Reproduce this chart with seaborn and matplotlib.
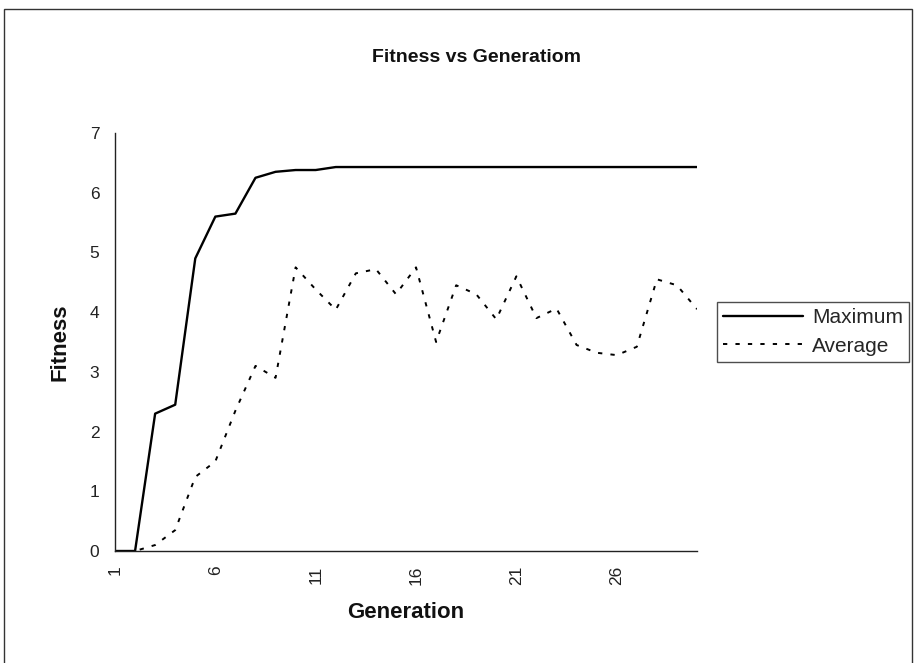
import matplotlib
matplotlib.use("Agg")
import matplotlib.pyplot as plt
import pandas as pd
import seaborn as sns
from matplotlib import font_manager
from matplotlib.patches import Rectangle

# Fitness per generation of the genetic run
generations = list(range(1, 31))
maximum = [0.00, 0.00, 2.30, 2.45, 4.90, 5.60, 5.65, 6.25, 6.35, 6.38,
           6.38, 6.43, 6.43, 6.43, 6.43, 6.43, 6.43, 6.43, 6.43, 6.43,
           6.43, 6.43, 6.43, 6.43, 6.43, 6.43, 6.43, 6.43, 6.43, 6.43]
average = [0.00, 0.00, 0.10, 0.35, 1.24, 1.50, 2.35, 3.10, 2.90, 4.75,
           4.38, 4.04, 4.65, 4.72, 4.30, 4.75, 3.50, 4.45, 4.30, 3.88,
           4.60, 3.90, 4.06, 3.45, 3.32, 3.28, 3.42, 4.55, 4.45, 4.05]
series_names = ["Maximum", "Average"]
x_ticks = [1, 6, 11, 16, 21, 26]
y_ticks = [0, 1, 2, 3, 4, 5, 6, 7]

df = pd.concat([
    pd.DataFrame({"Generation": generations, "Fitness": maximum, "Series": series_names[0]}),
    pd.DataFrame({"Generation": generations, "Fitness": average, "Series": series_names[1]}),
])

sns.set_style("white")
plt.rcParams["font.family"] = ["Liberation Sans", "DejaVu Sans"]

# Narrow face for the title when one is available
installed = {f.name for f in font_manager.fontManager.ttflist}
if "Liberation Sans Narrow" in installed:
    title_font = dict(family="Liberation Sans Narrow", fontsize=15.5)
else:
    title_font = dict(family="Liberation Sans", fontsize=14)

W, H = 916, 663
fig = plt.figure(figsize=(W / 100, H / 100), dpi=100)
ax = fig.add_axes([115 / W, 1 - 551 / H, 582 / W, 418 / H])

sns.lineplot(
    data=df, x="Generation", y="Fitness", style="Series",
    style_order=series_names, color="black",
    dashes={"Maximum": "", "Average": (2.2, 4.2)},
    linewidth=1.7, legend=False, ax=ax,
)
for line in ax.lines:
    if line.get_linestyle() != "-":
        line.set_linewidth(1.4)

ax.set_xlim(1, 30)
ax.set_ylim(0, 7)
ax.set_xticks(x_ticks)
ax.set_xticklabels([str(t) for t in x_ticks], rotation=90, va="top", ha="center")
ax.set_yticks(y_ticks)
ax.tick_params(axis="both", direction="inout", length=8.6, width=1.0,
               color="#222222", labelsize=12.5, labelcolor="#222222")
ax.tick_params(axis="y", pad=7)
ax.tick_params(axis="x", pad=6)
for side in ("top", "right"):
    ax.spines[side].set_visible(False)
for side in ("left", "bottom"):
    ax.spines[side].set_color("#222222")
    ax.spines[side].set_linewidth(1.0)

ax.set_xlabel("")
ax.set_ylabel("")
fig.text(406 / W, 1 - 613 / H, "Generation", ha="center", va="center",
         fontsize=16, fontweight="bold", color="#111111")
fig.text(60 / W, 1 - 342 / H, "Fitness", ha="center", va="center",
         rotation=90, fontsize=16, fontweight="bold", color="#111111")
fig.text(476 / W, 1 - 58 / H, "Fitness vs Generatiom", ha="center", va="center",
         fontweight="bold", color="#111111", **title_font)

# Legend box
handles = ax.lines[:2]
leg = fig.legend(handles, series_names, loc="upper left",
                 bbox_to_anchor=(717 / W, 1 - 302 / H),
                 frameon=True, fancybox=False, edgecolor="#222222",
                 fontsize=15, handlelength=3.85, handletextpad=0.4,
                 borderpad=0.3, labelspacing=0.45, borderaxespad=0)
leg.get_frame().set_linewidth(1.0)

# Chart border
fig.add_artist(Rectangle((4 / W, -0.02), 908 / W, 1 - 9 / H + 0.02,
                         transform=fig.transFigure, fill=False,
                         edgecolor="#333333", linewidth=1.0))

fig.savefig("out.png", dpi=100, facecolor="white")
